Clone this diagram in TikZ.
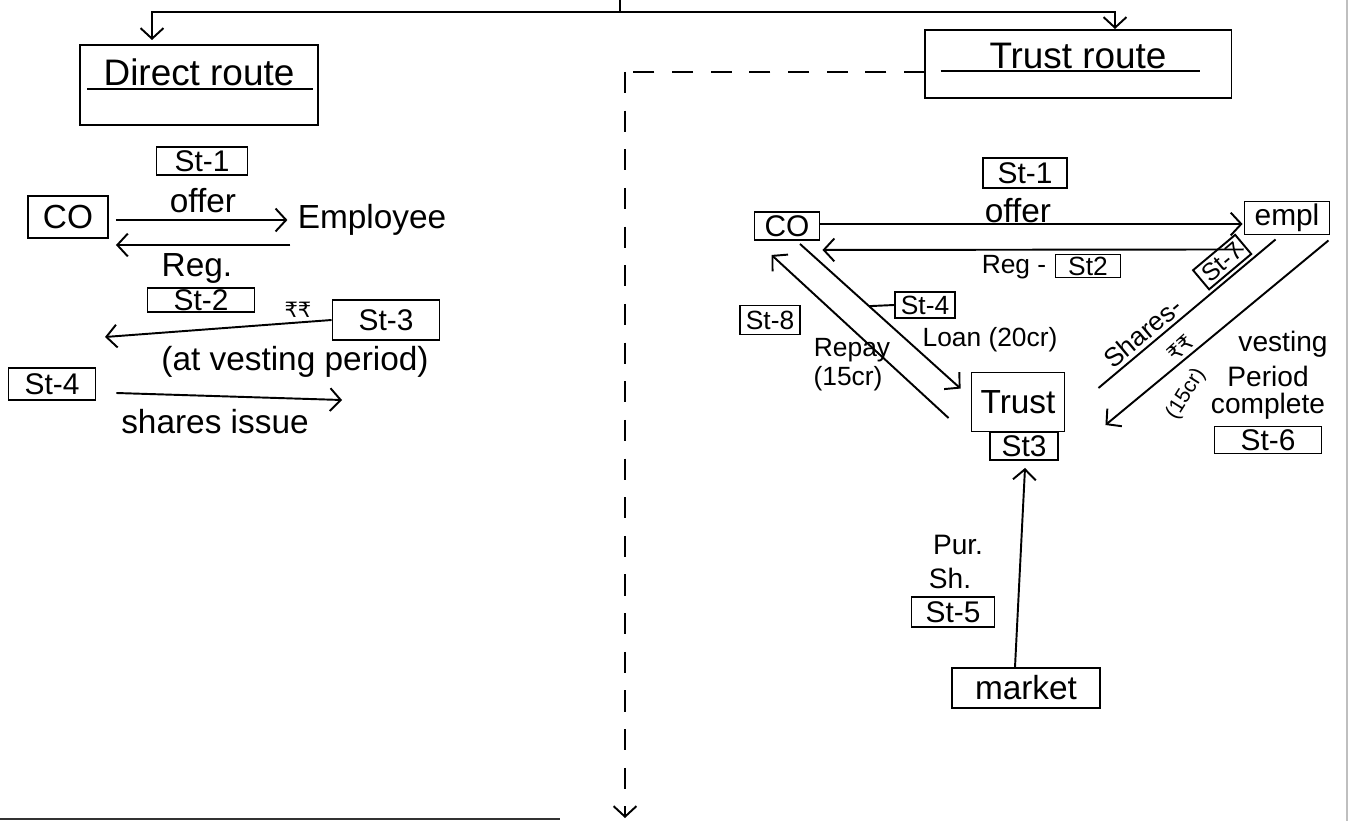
\documentclass[tikz,border=0pt]{standalone}
\usepackage{fontspec}
\setmainfont{Liberation Sans}
\newfontfamily\rupeefont{DejaVu Sans}
\usetikzlibrary{arrows.meta,calc}
\begin{document}
\begin{tikzpicture}[x=0.02cm,y=-0.02cm,
  ink/.style={line width=1.1pt, draw=black},
  arr/.style={ink, -{Straight Barb[length=6pt,width=13pt,line width=1.1pt]}},
  dashline/.style={line width=1.1pt, dash pattern=on 12pt off 10pt},
  box/.style={draw, line width=1.1pt, inner sep=0pt, font=\fontsize{17}{19}\selectfont},
  title/.style={font=\fontsize{21}{23}\selectfont, inner sep=1pt},
  lbl/.style={font=\fontsize{19}{21}\selectfont, inner sep=0pt},
  mlbl/.style={font=\fontsize{16}{18}\selectfont, inner sep=0pt},
  slbl/.style={font=\fontsize{15}{17}\selectfont, inner sep=0pt},
  tlbl/.style={font=\fontsize{12}{14}\selectfont, inner sep=0pt},
]
\useasboundingbox[fill=white] (0,0) rectangle (1358,821);
% paper edges
\draw[line width=1.6pt, black!80] (0,819) -- (560,819);
\draw[line width=0.6pt, black!25] (1347,0) -- (1347,821);

% ---------- top split ----------
\coordinate (top) at (620,0);
\coordinate (split) at (620,12);
\coordinate (dA) at (152,40);
\coordinate (tA) at (1115,29);
\draw[ink] (top) -- (split);
\draw[arr] (split) -| (dA);
\draw[arr] (split) -| (tA);

% ---------- route boxes ----------
\node[draw, line width=1.1pt, minimum width=4.76cm, minimum height=1.6cm] (direct) at (199,85) {};
\node[title] (directlbl) at (199,72) {Direct route};
\draw[ink] ($(direct.north west)+(8,45)$) -- ($(direct.north east)+(-6,45)$);

\node[draw, line width=1.1pt, minimum width=6.14cm, minimum height=1.36cm] (trustroute) at (1078,64) {};
\node[title] (trustlbl) at (1078,56) {Trust route};
\draw[ink] ($(trustroute.north west)+(17,42)$) -- ($(trustroute.north east)+(-32,42)$);

% dashed divider
\coordinate (dstart) at (925,72);
\coordinate (dcorner) at (625,72);
\coordinate (dend) at (625,818);
\draw[dashline] (dstart) -- (dcorner);
\draw[dashline, -{Straight Barb[length=6pt,width=13pt,line width=1.1pt]}] (dcorner) -- (dend);

% ---------- direct route ----------
\node[box, minimum width=1.82cm, minimum height=0.56cm] (l1) at (202,161) {St-1};
\node[box, minimum width=1.6cm, minimum height=0.84cm, font=\fontsize{19}{21}\selectfont] (lco) at (68,217) {CO};
\node[lbl] (loffer) at (203,201) {offer};
\node[lbl] (lemp) at (372,220) {Employee};
\draw[arr] ($(lco.east)+(7,3)$) -- ($(lemp.west)+(-10,0)$);
\draw[arr] ($(lemp.west)+(-7,25)$) -- ($(lco.east)+(7,28)$);
\node[lbl] (lreg) at (197,268) {Reg.};
\node[box, minimum width=2.14cm, minimum height=0.48cm] (l2) at (201,300) {St-2};
\node[tlbl] (lrs) at (298,310) {\rupeefont ₹₹};
\node[box, minimum width=2.14cm, minimum height=0.8cm] (l3) at (386,320) {St-3};
\coordinate (l3end) at (105,337);
\draw[arr] (l3.west) -- (l3end);
\node[lbl] (lvest) at (295,362) {(at vesting period)};
\node[box, minimum width=1.74cm, minimum height=0.64cm] (l4) at (52,384) {St-4};
\coordinate (lshend) at (342,400);
\draw[arr] ($(l4.east)+(20,9)$) -- (lshend);
\node[lbl] (lshares) at (215,422) {shares issue};

% ---------- trust route ----------
\node[box, minimum width=1.68cm, minimum height=0.6cm] (r1) at (1025,173) {St-1};
\node[box, minimum width=1.3cm, minimum height=0.56cm] (rco) at (787,226) {CO};
\node[lbl] (roffer) at (1018,211) {offer};
\node[box, minimum width=1.7cm, minimum height=0.66cm] (rempl) at (1287,218) {empl};
\draw[arr] ($(rco.east)+(0,-2)$) -- ($(rempl.west)+(-1,6)$);
\draw[arr] ($(rempl.south west)+(0,14)$) -- ($(rco.south east)+(2,9)$);
\node[slbl] (rreg) at (1014,267) {Reg -};
\node[box, minimum width=1.3cm, minimum height=0.46cm, font=\fontsize{15}{17}\selectfont] (r2) at (1088,266) {St2};

\node[box, minimum width=1.86cm, minimum height=1.18cm, font=\fontsize{19}{21}\selectfont] (rtrust) at (1018,402) {Trust};
\node[box, minimum width=1.36cm, minimum height=0.56cm] (r3) at (1024,446) {St3};

% loan CO -> Trust
\draw[arr] ($(rco.south)+(13,3)$) -- ($(rtrust.north west)+(-10,17)$) coordinate[pos=0.43] (lp);
\node[box, minimum width=1.2cm, minimum height=0.52cm, font=\fontsize{15}{17}\selectfont] (r4) at (925,305) {St-4};
\draw[ink] (lp) -- (r4.west);
\node[slbl] (rloan) at (990,340) {Loan (20cr)};

% repay Trust -> CO
\draw[arr] ($(rtrust.west)+(-22,16)$) -- ($(rco.south west)+(18,14)$);
\node[box, minimum width=1.2cm, minimum height=0.58cm, font=\fontsize{15}{17}\selectfont] (r8) at (770,320) {St-8};
\node[slbl] (rrepay) at (852,350) {Repay};
\node[slbl] (rrepay2) at (848,379) {(15cr)};

% shares Trust -> empl
\draw[ink] ($(rtrust.east)+(33,-14)$) -- ($(rempl.south west)+(32,4)$)
  node[pos=0.3, sloped, above=2pt, slbl] (rshares) {Shares-}
  node[pos=0.76, sloped, above=2pt, box, minimum width=1.1cm, minimum height=0.5cm, font=\fontsize{14}{16}\selectfont] (r7) {St-7};

% money empl -> Trust
\draw[arr] ($(rempl.south east)+(-2,5)$) -- ($(rtrust.east)+(40,23)$);
\node[tlbl, rotate=42] (rrs) at (1180,348) {\rupeefont ₹₹};
\node[tlbl, rotate=58] (rrs2) at (1186,394) {(15cr)};

\node[mlbl] (rv1) at (1283,344) {vesting};
\node[mlbl] (rv2) at (1268,376) {Period};
\node[mlbl] (rv3) at (1268,406) {complete};
\node[box, minimum width=2.14cm, minimum height=0.54cm] (r6) at (1268,440) {St-6};

% market -> Trust
\node[box, minimum width=2.96cm, minimum height=0.8cm, font=\fontsize{19}{21}\selectfont] (market) at (1026,688) {market};
\draw[arr] ($(market.north)+(-11,0)$) -- ($(r3.south)+(1,7)$);
\node[mlbl] (rpur) at (958,545) {Pur.};
\node[mlbl] (rsh) at (950,578) {Sh.};
\node[box, minimum width=1.66cm, minimum height=0.6cm] (r5) at (953,612) {St-5};
\end{tikzpicture}
\end{document}
